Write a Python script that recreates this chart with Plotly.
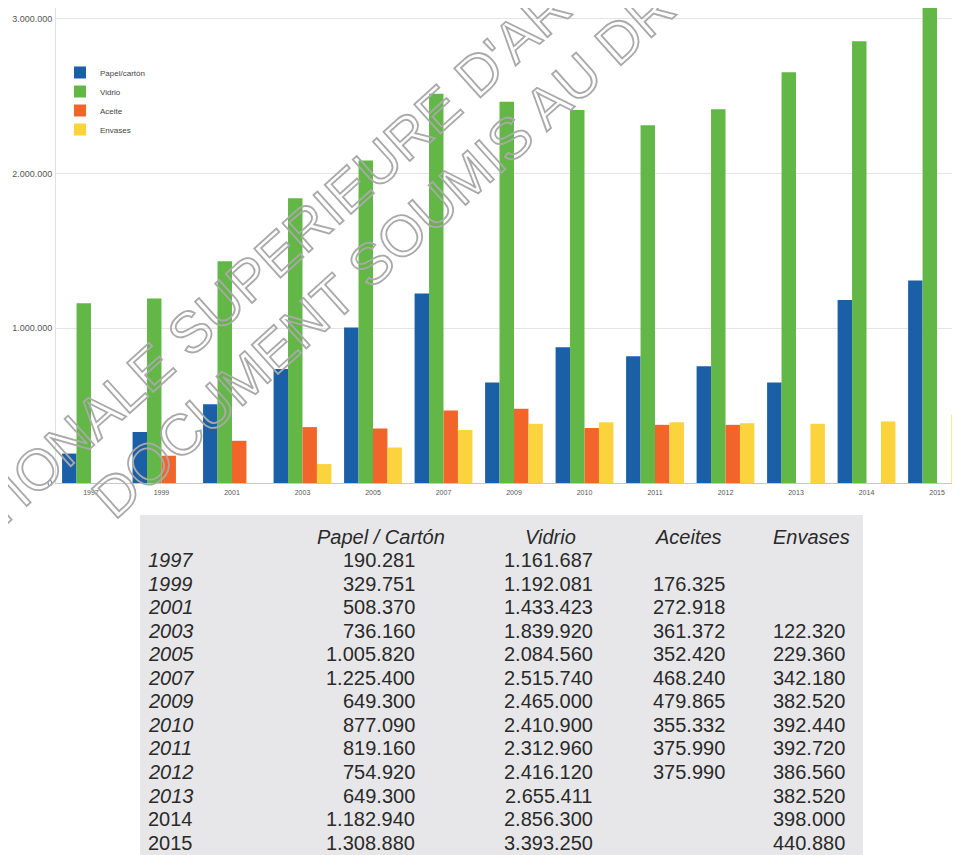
import plotly.graph_objects as go

# ---------------- data ----------------
years = ["1997", "1999", "2001", "2003", "2005", "2007", "2009", "2010",
         "2011", "2012", "2013", "2014", "2015"]
papel = [190281, 329751, 508370, 736160, 1005820, 1225400, 649300, 877090,
         819160, 754920, 649300, 1182940, 1308880]
vidrio = [1161687, 1192081, 1433423, 1839920, 2084560, 2515740, 2465000,
          2410900, 2312960, 2416120, 2655411, 2856300, 3393250]
aceites = [None, 176325, 272918, 361372, 352420, 468240, 479865, 355332,
           375990, 375990, None, None, None]
envases = [None, None, None, 122320, 229360, 342180, 382520, 392440,
           392720, 386560, 382520, 398000, 440880]
legend_names = ["Papel/cartón", "Vidrio", "Aceite", "Envases"]
table_headers = ["Papel / Cartón", "Vidrio", "Aceites", "Envases"]
y_ticks = [0, 1000000, 2000000, 3000000]
n_italic_years = 11
watermark_lines = ["NATIONALE SUPERIEURE D'ARCHITECTURE",
                   "DOCUMENT SOUMIS AU DROIT D'AUTEUR"]

colors = ["#1b5fa7", "#62b747", "#f1652a", "#fbd33c"]

# ---------------- geometry (target-page pixels) ----------------
OFF = 8                      # page body margin offset
PW, PH = 960, 855            # page size
W, H = PW - OFF, PH - OFF    # figure size
L, R, T, B = 56, 960, 8, 483  # plot area in page pixels
PX_PER_M = 154.7


def px(x):
    return (x - L) / (R - L)


def py(y):
    return (B - y) / (B - T)


fig = go.Figure()
for name, vals, col in zip(legend_names, [papel, vidrio, aceites, envases], colors):
    fig.add_trace(go.Bar(x=years, y=vals, name=name,
                         marker=dict(color=col, line=dict(width=0))))

fmt = lambda v: "" if v is None else f"{v:,}".replace(",", ".")

annotations = []
shapes = []

# table background
shapes.append(dict(type="rect", xref="paper", yref="paper",
                   x0=px(140), x1=px(863), y0=py(515), y1=py(870),
                   fillcolor="#e7e7e9", line=dict(width=0), layer="below"))

tfont = dict(family="Liberation Sans, Arial, sans-serif", size=20, color="#2a2a2a")
header_y = 537
row0 = 560
row_step = 23.55
header_pos = [381, 550, 688, 811]
for h, x in zip(table_headers, header_pos):
    annotations.append(dict(xref="paper", yref="paper", x=px(x), y=py(header_y),
                            text=f"<i>{h}</i>", showarrow=False, xanchor="center",
                            yanchor="middle", font=tfont))
value_right = [417, 595, 727, 847]
cols = [papel, vidrio, aceites, envases]
for k, yr in enumerate(years):
    yy = py(row0 + row_step * k)
    txt = f"<i>{yr}</i>" if k < n_italic_years else yr
    annotations.append(dict(xref="paper", yref="paper", x=px(146), y=yy,
                            text=txt, showarrow=False, xanchor="left",
                            yanchor="middle", font=tfont))
    for c, xr in zip(cols, value_right):
        s = fmt(c[k])
        if s:
            annotations.append(dict(xref="paper", yref="paper", x=px(xr), y=yy,
                                    text=s, showarrow=False, xanchor="right",
                                    yanchor="middle", font=tfont))

# watermark (outlined text)
wm_pos = [(381, 160), (530, 120)]
for line, (x, y) in zip(watermark_lines, wm_pos):
    annotations.append(dict(
        xref="paper", yref="paper", x=px(x), y=py(y),
        text=f'<span style="fill:none;stroke:#a9a9a9;stroke-width:1.8px">{line}</span>',
        showarrow=False, xanchor="center", yanchor="middle", textangle=-42,
        font=dict(family="Liberation Sans, Arial, sans-serif", size=57, color="#a9a9a9")))

fig.update_layout(
    width=W, height=H,
    margin=dict(l=L - OFF, r=PW - R, t=T - OFF, b=PH - B, pad=0, autoexpand=False),
    paper_bgcolor="white", plot_bgcolor="white",
    barmode="group", bargap=0.18, bargroupgap=0,
    separators=",.",
    font=dict(family="Liberation Sans, Arial, sans-serif", color="#444"),
    legend=dict(x=px(60), y=py(58), xanchor="left", yanchor="top",
                font=dict(size=8, color="#444"), bgcolor="rgba(0,0,0,0)",
                itemwidth=30, tracegroupgap=0),
    xaxis=dict(type="category", range=[-0.496, 12.326], showgrid=False,
               showline=True, linecolor="#c8c8c8", linewidth=1,
               ticks="", tickfont=dict(size=7, color="#555"),
               ticklabelstandoff=3, fixedrange=True),
    yaxis=dict(range=[0, (B - T) / PX_PER_M * 1e6], tickvals=y_ticks,
               tickformat=",.0f", showgrid=True, gridcolor="#e4e4e4",
               gridwidth=1, zeroline=False, showline=True, linecolor="#e0e0e0",
               ticks="", tickfont=dict(size=9, color="#555"),
               ticklabelstandoff=1, fixedrange=True),
    annotations=annotations, shapes=shapes,
)

fig.write_html("out.html")
